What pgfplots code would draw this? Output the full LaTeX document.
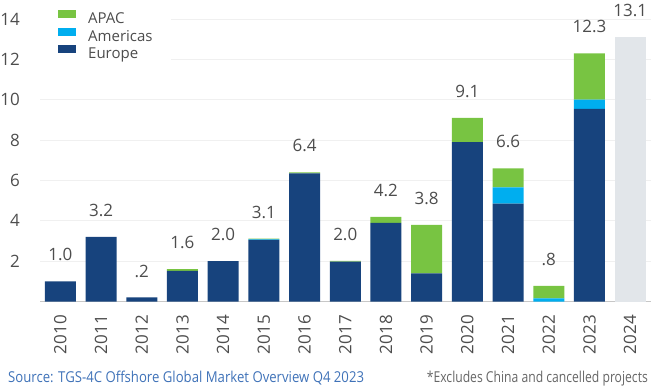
\documentclass[border=0pt]{standalone}
\usepackage{fontspec}
\setmainfont{Open Sans}
\usepackage{pgfplots}
\pgfplotsset{compat=1.18}
\definecolor{apac}{HTML}{78C442}
\definecolor{amer}{HTML}{00AEEF}
\definecolor{euro}{HTML}{17437D}
\definecolor{fcst}{HTML}{E2E6EA}
\definecolor{txt}{HTML}{4D4D4D}
\definecolor{src}{HTML}{3F72B8}
\definecolor{note}{HTML}{666666}
\pgfplotsset{chartgeom/.style={
  at={(0,0)}, anchor=south west,
  scale only axis, width=610.5bp, height=282.5bp,
  xmin=-0.5, xmax=14.5, ymin=0, ymax=14, clip=false}}
\begin{document}
\begin{tikzpicture}
\begin{axis}[
  chartgeom,
  ybar stacked, bar width=31bp,
  xtick={0,...,14},
  xticklabels={2010,2011,2012,2013,2014,2015,2016,2017,2018,2019,2020,2021,2022,2023,2024},
  ytick={2,4,6,8,10,12,14},
  ymajorgrids, grid style={draw=black!6, line width=0.8bp},
  axis x line*=bottom, axis y line*=left,
  y axis line style={draw=none},
  x axis line style={draw=black!22, line width=1.5bp, -},
  major tick length=0pt, tick style={draw=none},
  /pgf/number format/assume math mode=true,
  tick label style={font=\fontsize{17bp}{20bp}\selectfont, text=txt},
  yticklabel style={anchor=east, inner sep=0pt, xshift=-20bp},
  xticklabel style={rotate=90, anchor=east, inner sep=0pt, xshift=-13.5bp},
  reverse legend,
  legend image code/.code={\fill[#1,draw=none] (0bp,2bp) rectangle (18bp,10bp);},
  legend style={at={(rel axis cs:0,1)}, anchor=north west, draw=none, fill=white,
    inner xsep=18bp, inner ysep=2bp, yshift=10.7bp, row sep=0pt,
    font=\fontsize{15bp}{18bp}\selectfont, text=txt,
    nodes={inner xsep=0pt, inner ysep=0pt, text height=11bp, text depth=4bp},
    /tikz/every odd column/.append style={column sep=12bp}},
  legend cell align=left,
]
\addplot[fill=euro, draw=none] coordinates {
 (0,1.0) (1,3.2) (2,0.2) (3,1.52) (4,2.0) (5,3.05) (6,6.35) (7,1.98)
 (8,3.9) (9,1.4) (10,7.9) (11,4.85) (12,0) (13,9.55) (14,0)};
\addlegendentry{Europe}
\addplot[fill=amer, draw=none] coordinates {
 (0,0) (1,0) (2,0) (3,0) (4,0) (5,0.03) (6,0) (7,0)
 (8,0) (9,0) (10,0) (11,0.8) (12,0.15) (13,0.45) (14,0)};
\addlegendentry{Americas}
\addplot[fill=apac, draw=none] coordinates {
 (0,0) (1,0) (2,0) (3,0.08) (4,0) (5,0.04) (6,0.05) (7,0.03)
 (8,0.3) (9,2.4) (10,1.2) (11,0.95) (12,0.62) (13,2.3) (14,0)};
\addlegendentry{APAC}
\addplot[forget plot, fill=fcst, draw=none] coordinates {
 (0,0) (1,0) (2,0) (3,0) (4,0) (5,0) (6,0) (7,0)
 (8,0) (9,0) (10,0) (11,0) (12,0) (13,0) (14,13.1)};
\end{axis}
\begin{axis}[chartgeom, hide axis]
\addplot[draw=none, mark=none,
  nodes near coords, point meta=explicit symbolic,
  nodes near coords style={font=\fontsize{17bp}{20bp}\selectfont, text=txt,
     inner sep=0pt, anchor=south, yshift=20bp}] coordinates {
 (0,1.0)[1.0] (1,3.2)[3.2] (2,0.2)[.2] (3,1.6)[1.6] (4,2.0)[2.0] (5,3.1)[3.1]
 (6,6.4)[6.4] (7,2.0)[2.0] (8,4.2)[4.2] (9,3.8)[3.8] (10,9.1)[9.1] (11,6.6)[6.6]
 (12,0.77)[.8] (13,12.3)[12.3] (14,13.1)[13.1]};
\end{axis}
\node[anchor=base west, inner sep=0pt, font=\fontsize{15bp}{17bp}\selectfont, text=src]
  at (-32bp,-80.5bp) {\scalebox{0.877}[1]{Source: TGS-4C Offshore Global Market Overview Q4 2023}};
\node[anchor=base east, inner sep=0pt, font=\fontsize{15bp}{17bp}\selectfont, text=note]
  at (608bp,-80.5bp) {\scalebox{0.81}[1]{*Excludes China and cancelled projects}};
\pgfresetboundingbox
\path (-40bp,-86.5bp) rectangle (612bp,301.5bp);
\end{tikzpicture}
\end{document}
